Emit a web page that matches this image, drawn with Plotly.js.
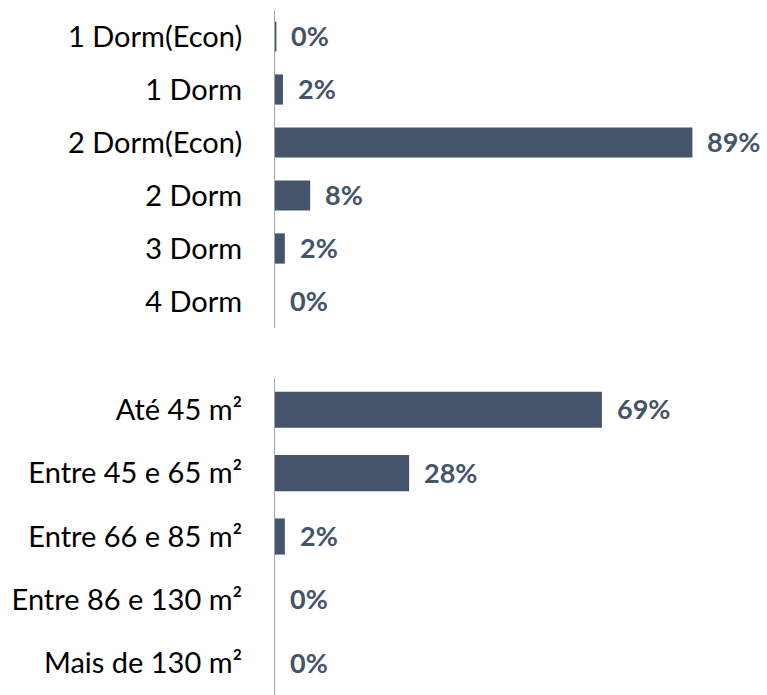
<!DOCTYPE html>
<html>
<head>
<meta charset="utf-8">
<script src="https://cdn.plot.ly/plotly-3.0.1.min.js"></script>
<style>html,body{margin:0;padding:0;background:#fff;}#chart{width:767px;height:695px;}</style>
</head>
<body>
<div id="chart"></div>
<script>
const dormCategories = ['1 Dorm(Econ)', '1 Dorm', '2 Dorm(Econ)', '2 Dorm', '3 Dorm', '4 Dorm'];
const dormValues = [0.3, 1.7, 89, 7.5, 2.1, 0];
const dormLabels = ['0%', '2%', '89%', '8%', '2%', '0%'];

const areaCategories = ['Até 45 m²', 'Entre 45 e 65 m²', 'Entre 66 e 85 m²', 'Entre 86 e 130 m²', 'Mais de 130 m²'];
const areaValues = [69.7, 28.6, 2.1, 0, 0];
const areaLabels = ['69%', '28%', '2%', '0%', '0%'];

const barColor = '#44546A';
const axisColor = '#A6A6A6';

const traces = [
  {type: 'bar', orientation: 'h', x: dormValues, y: dormCategories, xaxis: 'x', yaxis: 'y',
   marker: {color: barColor}, hoverinfo: 'skip'},
  {type: 'bar', orientation: 'h', x: areaValues, y: areaCategories, xaxis: 'x2', yaxis: 'y2',
   marker: {color: barColor}, hoverinfo: 'skip'}
];

const labelFont = {family: 'Lato, Open Sans, sans-serif', size: 27, color: barColor, weight: 'bold'};
const annotations = [];
dormCategories.forEach((c, i) => annotations.push({
  x: dormValues[i], y: c, xref: 'x', yref: 'y', text: dormLabels[i], showarrow: false,
  xanchor: 'left', xshift: 13, yshift: 1, font: labelFont
}));
areaCategories.forEach((c, i) => annotations.push({
  x: areaValues[i], y: c, xref: 'x2', yref: 'y2', text: areaLabels[i], showarrow: false,
  xanchor: 'left', xshift: 13, yshift: 1, font: labelFont
}));

const xCommon = {range: [0, 100], showgrid: false, zeroline: false, showticklabels: false, showline: false, fixedrange: true};
const yCommon = {showgrid: false, zeroline: false, showline: true, linecolor: axisColor, linewidth: 1,
  ticks: '', autorange: 'reversed', ticklabelstandoff: 26,
  tickfont: {family: 'Lato, Open Sans, sans-serif', size: 29, color: '#000'}};

const layout = {
  width: 767, height: 695,
  margin: {l: 275, r: 23, t: 0, b: 0},
  paper_bgcolor: '#fff', plot_bgcolor: '#fff',
  showlegend: false, bargap: 0.43,
  font: {family: 'Lato, Open Sans, sans-serif'},
  xaxis: Object.assign({}, xCommon, {anchor: 'y'}),
  xaxis2: Object.assign({}, xCommon, {anchor: 'y2'}),
  yaxis: Object.assign({}, yCommon, {domain: [1 - 328/695, 1 - 10/695], anchor: 'x'}),
  yaxis2: Object.assign({}, yCommon, {domain: [0, 1 - 378/695], anchor: 'x2'}),
  annotations: annotations
};

Plotly.newPlot('chart', traces, layout, {displayModeBar: false, staticPlot: true});
</script>
</body>
</html>
